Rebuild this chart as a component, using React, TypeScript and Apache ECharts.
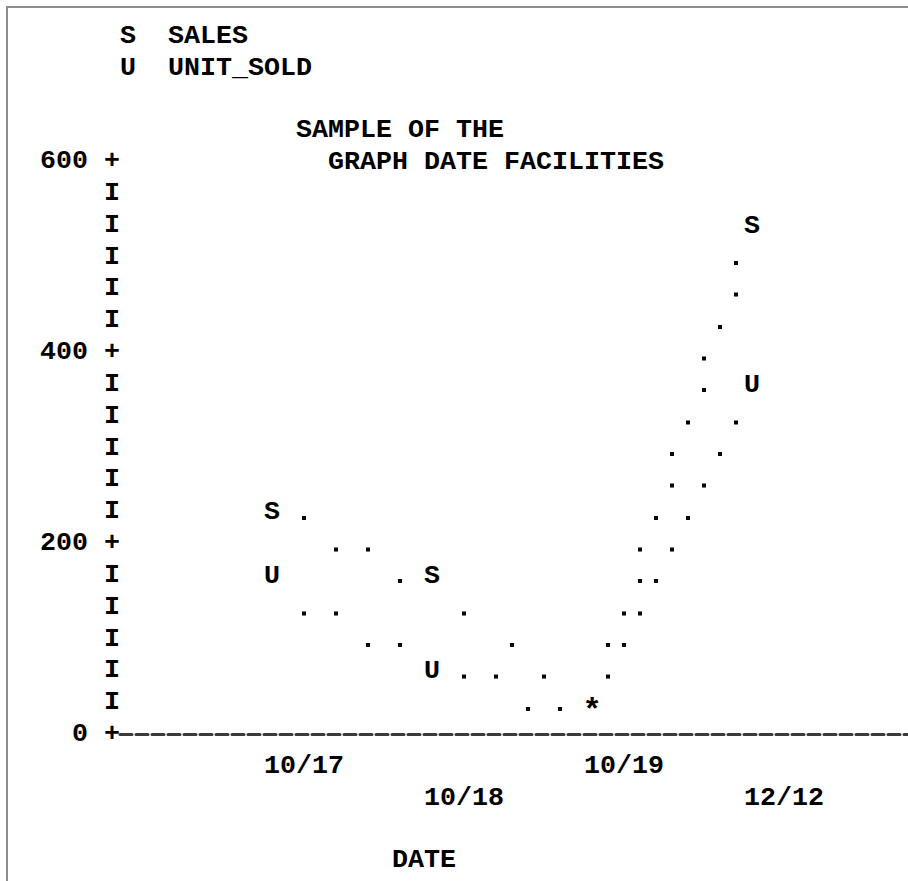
import React, { useEffect, useRef } from 'react';
import * as echarts from 'echarts';

// ---- data ----
const dates = ['10/17', '10/18', '10/19', '12/12'];
const sales = [233, 167, 33, 533];
const unitsSold = [167, 67, 33, 367];
const seriesNames = ['SALES', 'UNIT_SOLD'];
const seriesKeys = ['S', 'U'];
// printed "." interpolation characters: [column, value]
const salesCurve = [
  [12, 233], [14, 200], [16, 200], [18, 167],
  [22, 133], [25, 100], [27, 67], [28, 33],
  [31, 100], [32, 133], [33, 167], [33, 200], [34, 233], [35, 267], [35, 300],
  [36, 333], [37, 367], [37, 400], [38, 433], [39, 467], [39, 500],
];
const unitsCurve = [
  [12, 133], [14, 133], [16, 100], [18, 100],
  [22, 67], [24, 67], [26, 33],
  [31, 67], [32, 100], [33, 133], [34, 167], [35, 200], [36, 233], [37, 267],
  [38, 300], [39, 333],
];
const yMajorTicks = [0, 200, 400, 600];
const titleLines = ['SAMPLE OF THE', 'GRAPH DATE FACILITIES'];
const xAxisName = 'DATE';

// ---- layout ----
const FIRST_DATE_COL = 10;
const DATE_COL_STEP = 10;
const dateCol = (i: number) => FIRST_DATE_COL + i * DATE_COL_STEP;
const FONT = {
  fontFamily: '"Liberation Mono", "DejaVu Sans Mono", monospace',
  fontSize: 26.67,
  fontWeight: 'bold' as const,
  color: '#000',
};

export default function App() {
  const ref = useRef<HTMLDivElement>(null);

  useEffect(() => {
    if (!ref.current) return;
    const chart = echarts.init(ref.current, null, { renderer: 'svg' });

    const glyphSeries = (values: number[], other: number[], key: string, hideOnTie: boolean, name: string) => ({
      name,
      type: 'scatter',
      silent: true,
      z: 4,
      symbol: 'rect',
      symbolSize: 1,
      itemStyle: { color: 'rgba(0,0,0,0)', opacity: 1 },
      data: values.map((v, i) => ({
        value: [dateCol(i), v],
        label: v === other[i] ? { offset: [0, 9], fontSize: 32 } : undefined,
      })),
      label: {
        show: true,
        position: 'inside',
        ...FONT,
        opacity: 1,
        textBorderWidth: 0,
        offset: [0, 1],
        formatter: (p: any) => {
          const tie = values[p.dataIndex] === other[p.dataIndex];
          if (tie) return hideOnTie ? '' : '*';
          return key;
        },
      },
    });

    const dotSeries = (pts: number[][], name: string) => ({
      name,
      type: 'scatter',
      silent: true,
      z: 3,
      symbol: 'rect',
      symbolSize: 4,
      symbolOffset: [0, 6.5],
      itemStyle: { color: '#000', opacity: 1 },
      data: pts,
    });

    chart.setOption({
      animation: false,
      backgroundColor: '#fff',
      title: [
        { text: titleLines[0], left: 296, top: 114, padding: 0, textStyle: { ...FONT, lineHeight: 32 } },
        { text: titleLines[1], left: 328, top: 146, padding: 0, textStyle: { ...FONT, lineHeight: 32 } },
      ],
      legend: {
        orient: 'vertical',
        left: 115,
        top: 20,
        padding: 0,
        itemGap: 0,
        icon: 'none',
        itemWidth: 0,
        itemHeight: 0,
        selectedMode: false,
        data: seriesNames,
        formatter: (name: string) => `{k|${seriesKeys[seriesNames.indexOf(name)]}}{n|${name}}`,
        textStyle: {
          ...FONT,
          lineHeight: 32,
          rich: {
            k: { ...FONT, width: 48, lineHeight: 32 },
            n: { ...FONT, lineHeight: 32 },
          },
        },
      },
      grid: { left: 120, right: 0, top: 161, bottom: 141, containLabel: false },
      xAxis: {
        type: 'value',
        min: 0.5,
        max: 49.75,
        name: xAxisName,
        nameLocation: 'middle',
        nameGap: 110,
        nameTextStyle: { ...FONT, lineHeight: 32, padding: [0, 180, 0, 0] },
        axisLine: { show: true, lineStyle: { color: '#3a3a3a', width: 3, type: [12, 4] } },
        axisTick: { show: false },
        splitLine: { show: false },
        axisLabel: {
          customValues: dates.map((_, i) => dateCol(i) - 0.5),
          align: 'left',
          margin: 16,
          lineHeight: 32,
          ...FONT,
          formatter: (v: number) => {
            const i = Math.round((v + 0.5 - FIRST_DATE_COL) / DATE_COL_STEP);
            return i % 2 === 1 ? '\n' + dates[i] : dates[i];
          },
        },
      },
      yAxis: {
        type: 'value',
        min: 0,
        max: 600,
        interval: 100 / 3,
        axisLine: { show: false },
        axisTick: { show: false },
        splitLine: { show: false },
        axisLabel: {
          margin: 0,
          ...FONT,
          formatter: (v: number) => {
            const r = Math.round(v);
            return yMajorTicks.includes(r) ? `${r} +` : 'I';
          },
        },
      },
      graphic: [
        {
          type: 'polyline',
          shape: { points: [[7, 881], [7, 7], [908, 7]] },
          style: { stroke: '#8c8c8c', lineWidth: 2, fill: null },
          silent: true,
        },
      ],
      series: [
        dotSeries(salesCurve, seriesNames[0]),
        dotSeries(unitsCurve, seriesNames[1]),
        glyphSeries(sales, unitsSold, seriesKeys[0], false, seriesNames[0]),
        glyphSeries(unitsSold, sales, seriesKeys[1], true, seriesNames[1]),
      ],
    });

    return () => chart.dispose();
  }, []);

  return (
    <div
      ref={ref}
      style={{ position: 'fixed', left: 0, top: 0, width: 908, height: 881, background: '#fff' }}
    />
  );
}
